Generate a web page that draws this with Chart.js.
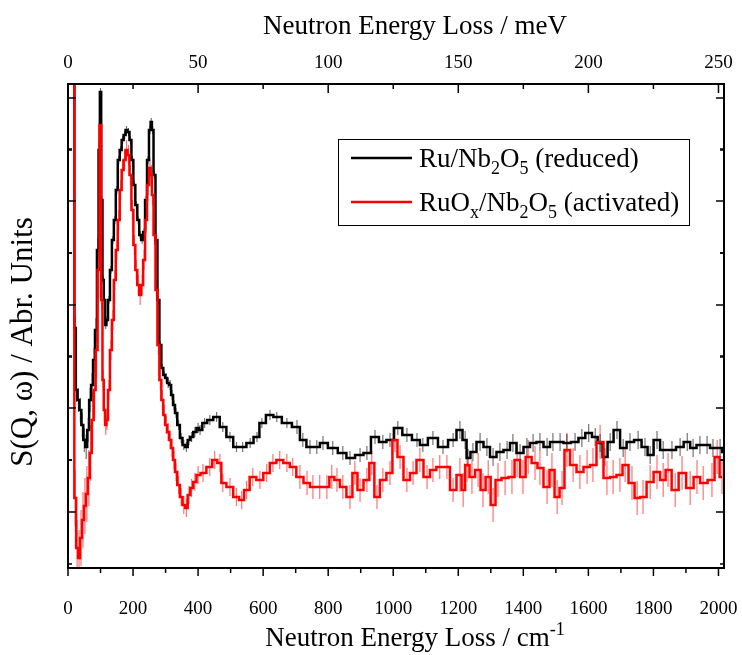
<!DOCTYPE html>
<html>
<head>
<meta charset="utf-8">
<script src="https://cdn.jsdelivr.net/npm/chart.js@4.4.1/dist/chart.umd.min.js"></script>
<style>
  html, body { margin: 0; padding: 0; background: #fff; }
</style>
</head>
<body>
<canvas id="chart" width="742" height="655"></canvas>
<script>
// energy transfer in cm-1, intensity in arbitrary units
const energyBlack = [
  5, 12, 17, 22, 26, 32, 38, 44, 50, 56,
  62, 68, 74, 80, 86, 92, 96, 100, 104, 108,
  112, 116, 120, 126, 132, 138, 144, 150, 156, 162,
  168, 174, 180, 186, 192, 198, 204, 210, 216, 222,
  228, 234, 240, 246, 252, 256, 260, 266, 272, 278,
  284, 290, 296, 302, 308, 314, 320, 326, 332, 340,
  348, 356, 364, 372, 380, 390, 400, 406, 420, 436,
  457, 476, 498, 518, 537, 560, 581, 596, 621, 642,
  673, 704, 722, 744, 765, 784, 814, 845, 867, 898,
  919, 944, 968, 990, 1014, 1042, 1073, 1091, 1122, 1153,
  1184, 1205, 1221, 1230, 1245, 1267, 1288, 1307, 1328, 1350,
  1368, 1390, 1411, 1430, 1451, 1473, 1491, 1513, 1534, 1559,
  1580, 1601, 1621, 1636, 1651, 1667, 1688, 1707, 1728, 1753,
  1774, 1790, 1811, 1830, 1857, 1882, 1904, 1922, 1943, 1965,
  1983, 2005, 2017
];
const sBlack = [
  700, 700, 700, 240, 178, 168, 158, 143, 128, 121,
  138, 168, 183, 208, 238, 318, 418, 476, 368, 288,
  268, 243, 248, 268, 298, 328, 348, 378, 408, 418,
  428, 433, 438, 436, 428, 408, 383, 363, 348, 333,
  328, 336, 368, 408, 438, 446, 438, 393, 328, 268,
  223, 200, 193, 190, 185, 183, 173, 163, 155, 143,
  130, 123, 121, 128, 131, 136, 140, 138, 145, 148,
  151, 141, 131, 121, 121, 125, 131, 145, 153, 151,
  145, 141, 128, 121, 121, 125, 120, 115, 110, 113,
  115, 131, 126, 128, 140, 133, 128, 123, 130, 121,
  128, 138, 128, 110, 116, 126, 121, 111, 116, 118,
  125, 115, 121, 125, 126, 121, 126, 126, 125, 126,
  130, 135, 131, 125, 111, 126, 138, 120, 126, 128,
  121, 113, 128, 118, 118, 121, 126, 120, 123, 123,
  120, 120, 116
];
const energyRed = [
  5, 12, 17, 22, 28, 34, 40, 46, 52, 58,
  64, 70, 76, 82, 88, 94, 100, 104, 108, 112,
  116, 120, 126, 132, 138, 144, 150, 156, 162, 168,
  174, 180, 186, 192, 198, 204, 210, 216, 222, 228,
  234, 240, 246, 252, 256, 260, 266, 272, 278, 284,
  290, 296, 302, 308, 314, 320, 326, 332, 340, 348,
  356, 364, 372, 380, 390, 400, 415, 436, 451, 467,
  476, 498, 518, 534, 549, 568, 590, 611, 630, 651,
  673, 691, 713, 735, 753, 774, 796, 811, 827, 845,
  867, 882, 898, 919, 934, 950, 968, 990, 1005, 1021,
  1042, 1061, 1082, 1104, 1122, 1143, 1165, 1184, 1205, 1215,
  1227, 1242, 1261, 1276, 1292, 1307, 1322, 1344, 1365, 1381,
  1399, 1415, 1436, 1451, 1473, 1488, 1504, 1519, 1534, 1553,
  1574, 1596, 1614, 1636, 1657, 1676, 1697, 1713, 1734, 1750,
  1768, 1790, 1811, 1830, 1845, 1867, 1888, 1913, 1934, 1953,
  1980, 1996, 2011
];
const sRed = [
  700, 700, 700, 70, 20, 10, 30, 48, 62, 74,
  90, 115, 148, 178, 218, 298, 443, 268, 188, 158,
  143, 148, 178, 218, 248, 288, 318, 348, 378, 398,
  408, 418, 413, 393, 358, 323, 298, 283, 273, 283,
  308, 348, 383, 400, 393, 373, 333, 278, 223, 188,
  168, 153, 143, 136, 128, 120, 108, 96, 83, 71,
  63, 60, 73, 80, 86, 93, 95, 101, 108, 105,
  85, 81, 71, 68, 78, 91, 88, 95, 105, 108,
  105, 101, 91, 85, 81, 81, 81, 91, 88, 81,
  71, 95, 78, 88, 105, 71, 88, 95, 128, 111,
  88, 95, 108, 91, 98, 101, 101, 78, 93, 78,
  103, 91, 98, 78, 91, 63, 88, 90, 91, 108,
  91, 111, 105, 100, 81, 98, 71, 80, 118, 103,
  96, 101, 103, 126, 90, 91, 93, 103, 85, 70,
  71, 86, 96, 88, 98, 78, 95, 80, 91, 85,
  88, 111, 91
];

// error bar half-lengths by energy band (band starts in cm-1)
const errEdges = [0, 100, 300, 700, 1200];
const errBlack = [12, 4, 5, 7, 9];
const errRed = [28, 10, 9, 12, 17];

const cmTicks = [0, 200, 400, 600, 800, 1000, 1200, 1400, 1600, 1800, 2000];
const meVTicks = [0, 50, 100, 150, 200, 250];
const yTicks = [56, 160, 263, 367, 470];
const xMax = 2017;
const cmPerMeV = 8;
const yMax = 484;

const FONT = '"Liberation Serif", "Times New Roman", serif';

// label pieces: 0 normal, 1 subscript, 2 superscript
const legendParts = [
  [['Ru/Nb', 0], ['2', 1], ['O', 0], ['5', 1], [' (reduced)', 0]],
  [['RuO', 0], ['x', 1], ['/Nb', 0], ['2', 1], ['O', 0], ['5', 1], [' (activated)', 0]]
];

function errFor(x, levels) {
  let k = 0;
  errEdges.forEach((e, j) => { if (x >= e) k = j; });
  return levels[k];
}

function richWidth(ctx, parts, size) {
  let w = 0;
  for (const [t, kind] of parts) {
    ctx.font = (kind ? Math.round(size * 0.65) : size) + 'px ' + FONT;
    w += ctx.measureText(t).width;
  }
  return w;
}

function drawRich(ctx, parts, x, y, size) {
  let cx = x;
  for (const [t, kind] of parts) {
    ctx.font = (kind ? Math.round(size * 0.65) : size) + 'px ' + FONT;
    const dy = kind === 1 ? size * 0.27 : kind === 2 ? -size * 0.4 : 0;
    ctx.fillText(t, cx, y + dy);
    cx += ctx.measureText(t).width;
  }
}

const errorBars = {
  id: 'errorBars',
  beforeDatasetsDraw(chart) {
    const { ctx, chartArea: a, scales } = chart;
    ctx.save();
    ctx.beginPath();
    ctx.rect(a.left, a.top, a.right - a.left, a.bottom - a.top);
    ctx.clip();
    chart.data.datasets.forEach(ds => {
      ctx.strokeStyle = ds.errColor;
      ctx.lineWidth = 1.2;
      ctx.beginPath();
      ds.data.forEach(p => {
        const e = errFor(p.x, ds.errLevels);
        const px = scales.x.getPixelForValue(p.x);
        ctx.moveTo(px, scales.y.getPixelForValue(p.y - e));
        ctx.lineTo(px, scales.y.getPixelForValue(p.y + e));
      });
      ctx.stroke();
    });
    ctx.restore();
  }
};

const frameAndText = {
  id: 'frameAndText',
  afterDraw(chart) {
    const { ctx, chartArea: a, scales } = chart;
    ctx.save();
    ctx.strokeStyle = '#000';
    ctx.lineWidth = 2;
    ctx.strokeRect(a.left, a.top, a.right - a.left, a.bottom - a.top);

    ctx.lineWidth = 1.5;
    const line = (x1, y1, x2, y2) => { ctx.beginPath(); ctx.moveTo(x1, y1); ctx.lineTo(x2, y2); ctx.stroke(); };
    // bottom ticks, outward
    cmTicks.forEach((v, i) => {
      const px = scales.x.getPixelForValue(v);
      line(px, a.bottom, px, a.bottom + 8);
      if (i < cmTicks.length - 1) {
        const pm = scales.x.getPixelForValue((v + cmTicks[i + 1]) / 2);
        line(pm, a.bottom, pm, a.bottom + 5);
      }
    });
    // top ticks, inward
    meVTicks.forEach((v, i) => {
      const px = scales.x2.getPixelForValue(v);
      line(px, a.top, px, a.top + 9);
      if (i < meVTicks.length - 1) {
        const pm = scales.x2.getPixelForValue((v + meVTicks[i + 1]) / 2);
        line(pm, a.top, pm, a.top + 5);
      }
    });
    // left and right ticks, inward
    const step = yTicks[1] - yTicks[0];
    yTicks.forEach(v => {
      const py = scales.y.getPixelForValue(v);
      line(a.left, py, a.left + 8, py);
      line(a.right, py, a.right - 8, py);
      [v - step / 2, v + step / 2].forEach(m => {
        if (m < 0 || m > yMax) return;
        const pm = scales.y.getPixelForValue(m);
        line(a.left, pm, a.left + 4, pm);
        line(a.right, pm, a.right - 4, pm);
      });
    });

    // axis titles
    ctx.fillStyle = '#000';
    ctx.textBaseline = 'alphabetic';
    const tsize = 27;
    const topTitle = [['Neutron Energy Loss / meV', 0]];
    drawRich(ctx, topTitle, 415 - richWidth(ctx, topTitle, tsize) / 2, 34, tsize);
    const botTitle = [['Neutron Energy Loss / cm', 0], ['-1', 2]];
    drawRich(ctx, botTitle, 415 - richWidth(ctx, botTitle, tsize) / 2, 646, tsize);
    ctx.save();
    ctx.translate(32, 342);
    ctx.rotate(-Math.PI / 2);
    const yTitle = [['S(Q, ω) / Abr. Units', 0]];
    drawRich(ctx, yTitle, -richWidth(ctx, yTitle, 31) / 2, 0, 31);
    ctx.restore();

    // legend
    ctx.lineWidth = 1;
    ctx.strokeRect(338.5, 139.5, 351, 86);
    const order = [1, 0];
    order.forEach((di, row) => {
      const ds = chart.data.datasets[di];
      const y = 158 + row * 44;
      ctx.strokeStyle = ds.borderColor;
      ctx.lineWidth = 2.5;
      line(351, y, 412, y);
      ctx.fillStyle = '#000';
      drawRich(ctx, legendParts[row], 419, y + 9, tsize);
    });
    ctx.restore();
  }
};

const toPoints = (xs, ys) => xs.map((x, i) => ({ x: x, y: ys[i] }));

new Chart(document.getElementById('chart'), {
  type: 'line',
  data: {
    datasets: [
      {
        label: 'RuOx/Nb2O5 (activated)',
        data: toPoints(energyRed, sRed),
        borderColor: '#ff0000',
        errColor: 'rgba(255,0,0,0.55)',
        errLevels: errRed,
        borderWidth: 2.5,
        stepped: 'middle',
        pointRadius: 0,
        clip: 0
      },
      {
        label: 'Ru/Nb2O5 (reduced)',
        data: toPoints(energyBlack, sBlack),
        borderColor: '#000000',
        errColor: 'rgba(0,0,0,0.55)',
        errLevels: errBlack,
        borderWidth: 2.5,
        stepped: 'middle',
        pointRadius: 0,
        clip: 0
      }
    ]
  },
  options: {
    responsive: false,
    animation: false,
    events: [],
    layout: { padding: 0 },
    plugins: { legend: { display: false }, tooltip: { enabled: false } },
    scales: {
      x: {
        type: 'linear', position: 'bottom', min: 0, max: xMax,
        afterBuildTicks: s => { s.ticks = cmTicks.map(v => ({ value: v })); },
        afterFit: s => { s.height = 87; s.paddingLeft = 0; s.paddingRight = 0; },
        grid: { display: false }, border: { display: false },
        ticks: { color: '#000', padding: 22, maxRotation: 0, callback: v => String(v), font: { family: FONT, size: 19 } }
      },
      x2: {
        type: 'linear', position: 'top', min: 0, max: xMax / cmPerMeV,
        afterBuildTicks: s => { s.ticks = meVTicks.map(v => ({ value: v })); },
        afterFit: s => { s.height = 84; s.paddingLeft = 0; s.paddingRight = 0; },
        grid: { display: false }, border: { display: false },
        ticks: { color: '#000', padding: 2, maxRotation: 0, callback: v => String(v), font: { family: FONT, size: 19 } }
      },
      y: {
        position: 'left', min: 0, max: yMax,
        afterFit: s => { s.width = 68; },
        grid: { display: false }, border: { display: false },
        ticks: { display: false }
      },
      y2: {
        position: 'right', min: 0, max: yMax,
        afterFit: s => { s.width = 18; },
        grid: { display: false }, border: { display: false },
        ticks: { display: false }
      }
    }
  },
  plugins: [errorBars, frameAndText]
});
</script>
</body>
</html>
